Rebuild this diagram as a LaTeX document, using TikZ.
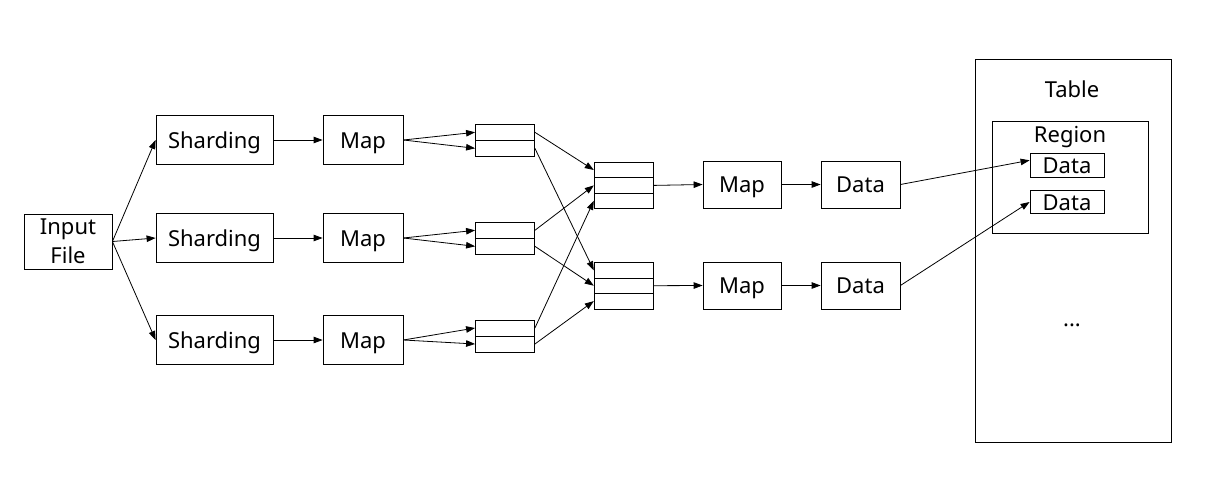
\documentclass[tikz,border=0pt]{standalone}
\usepackage{fontspec}
\newfontfamily\lblfont{Noto Sans}
\usetikzlibrary{arrows.meta}
\begin{document}
\begin{tikzpicture}[x=1pt,y=-1pt,
  lblsize/.style={font=\lblfont\fontsize{22}{29}\selectfont},
  box/.style={draw, line width=0.8pt, inner sep=0pt, lblsize,
    text height=16.5pt, text depth=0pt},
  cell/.style={draw, line width=0.8pt, inner sep=0pt,
    minimum width=59pt, minimum height=15.6pt},
  txt/.style={inner sep=0pt, lblsize, text height=16.5pt, text depth=0pt},
  flow/.style={-{Triangle[length=9pt,width=6.5pt]}, line width=0.8pt}
]
\useasboundingbox (0,0) rectangle (1212,485);

% input
\node[draw, line width=0.8pt, inner sep=0pt, lblsize, align=center,
  minimum width=88pt, minimum height=55pt] (inp) at (68,241.5) {Input\\[0pt]File};

% sharding and first map stage
\foreach \i/\y in {1/140, 2/238, 3/340} {
  \node[box, minimum width=117pt, minimum height=49pt] (sh\i) at (214.5,\y) {Sharding};
  \node[box, minimum width=80pt, minimum height=49pt] (mp\i) at (363,\y) {Map};
}

% two-cell buffers
\foreach \i/\y in {1/132.3, 2/230.3, 3/328} {
  \node[cell, minimum height=16pt] (sa\i) at (505,\y) {};
  \node[cell, minimum height=16pt] (sb\i) at (505,\y+16) {};
}

% three-cell buffers
\foreach \j/\y in {1/170, 2/270.3} {
  \node[cell] (ba\j) at (623.7,\y) {};
  \node[cell] (bb\j) at (623.7,\y+15.4) {};
  \node[cell] (bc\j) at (623.7,\y+30.8) {};
}

% second map stage and data
\foreach \j/\y in {1/184.5, 2/285.5} {
  \node[box, minimum width=78pt, minimum height=47pt] (mq\j) at (742,\y) {Map};
  \node[box, minimum width=79pt, minimum height=47pt] (dt\j) at (860.5,\y) {Data};
}

% table with region
\node[box, minimum width=196pt, minimum height=383pt] (tbl) at (1073,250.5) {};
\node[txt] (tbllbl) at (1072,89) {Table};
\node[box, minimum width=156pt, minimum height=112pt] (reg) at (1070,177) {};
\node[txt] (reglbl) at (1070,134) {Region};
\node[box, minimum width=74pt, minimum height=24pt] (id1) at (1067,165.3) {Data};
\node[box, minimum width=74pt, minimum height=23pt] (id2) at (1067,202) {Data};
\node[txt] (dots) at (1072,318) {...};

% connectors
\foreach \i in {1,2,3} {
  \draw[flow] (inp.east) -- (sh\i.west);
  \draw[flow] (sh\i.east) -- (mp\i.west);
  \draw[flow] (mp\i.east) -- (sa\i.west);
  \draw[flow] (mp\i.east) -- (sb\i.west);
}
\draw[flow] (sa1.east) -- (ba1.west);
\draw[flow] (sb1.east) -- (ba2.west);
\draw[flow] (sa2.east) -- (bb1.west);
\draw[flow] (sb2.east) -- (bb2.west);
\draw[flow] (sa3.east) -- (bc1.west);
\draw[flow] (sb3.east) -- (bc2.west);
\foreach \j in {1,2} {
  \draw[flow] (bb\j.east) -- (mq\j.west);
  \draw[flow] (mq\j.east) -- (dt\j.west);
}
\draw[flow] (dt1.east) -- ([yshift=5pt]id1.west);
\draw[flow] (dt2.east) -- (id2.west);
\end{tikzpicture}
\end{document}
